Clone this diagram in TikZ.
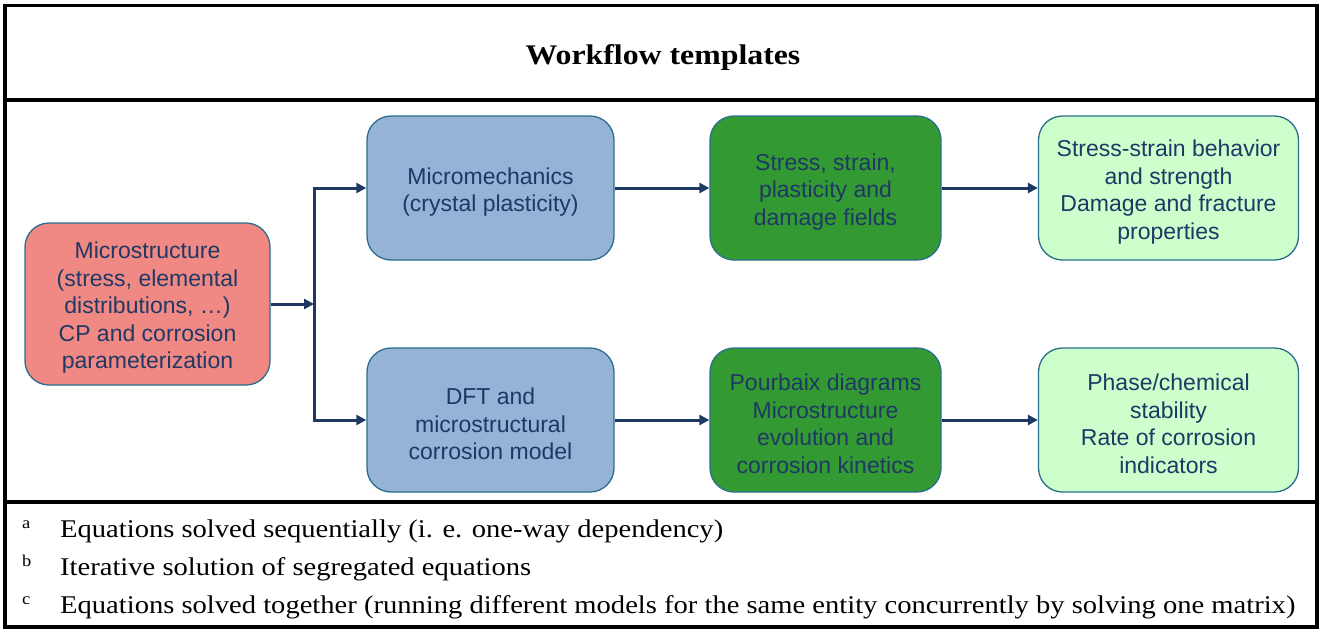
\documentclass[tikz,border=0pt]{standalone}
\usepackage{fontspec}
\setmainfont[FakeStretch=1.12]{Liberation Serif}
\newfontfamily\boxfont{Liberation Sans}
\usetikzlibrary{arrows.meta}

\definecolor{navy}{HTML}{1F3864}
\definecolor{edge}{HTML}{2A6E8C}
\definecolor{salmon}{HTML}{F08984}
\definecolor{steel}{HTML}{95B3D7}
\definecolor{leaf}{HTML}{339933}
\definecolor{mint}{HTML}{CCFFCC}

\tikzset{
  card/.style={draw=edge, line width=1.3pt, rounded corners=24pt, inner sep=0pt},
  cardtext/.style={align=center, text=navy, inner sep=0pt, yshift=-4pt,
    font=\boxfont\fontsize{23}{27.5}\selectfont},
  link/.style={draw=navy, line width=3pt,
    -{Triangle[length=10pt,width=10pt]}},
  frame/.style={line width=3.3pt},
  note/.style={anchor=base west, inner sep=0pt,
    font=\fontsize{25.5}{30}\selectfont},
  supmark/.style={anchor=base west, inner sep=0pt,
    font=\fontsize{16.5}{18}\selectfont},
}

\begin{document}
\begin{tikzpicture}[x=1pt, y=-1pt]
\useasboundingbox (0,0) rectangle (1321,629);

% table frame
\draw[frame] (5,5.7) rectangle (1317,627);
\draw[frame] (5,100) -- (1317,100);
\draw[frame] (5,502) -- (1317,502);

% heading
\node[font=\bfseries\fontsize{28.4}{32}\selectfont] (title) at (663,58) {Workflow templates};

% boxes
\node[card, fill=salmon, minimum width=245pt, minimum height=162pt,
  label={[cardtext]center:{Microstructure\\(stress, elemental\\distributions, \ldots)\\CP and corrosion\\parameterization}}]
  (micro) at (147.5,304) {};
\node[card, fill=steel, minimum width=247pt, minimum height=144pt,
  label={[cardtext]center:{Micromechanics\\(crystal plasticity)}}]
  (mech) at (490.5,188) {};
\node[card, fill=steel, minimum width=247pt, minimum height=144pt,
  label={[cardtext]center:{DFT and\\microstructural\\corrosion model}}]
  (dft) at (490.5,420) {};
\node[card, fill=leaf, minimum width=231pt, minimum height=144pt,
  label={[cardtext]center:{Stress, strain,\\plasticity and\\damage fields}}]
  (fields) at (825.5,188) {};
\node[card, fill=leaf, minimum width=231pt, minimum height=144pt,
  label={[cardtext]center:{Pourbaix diagrams\\Microstructure\\evolution and\\corrosion kinetics}}]
  (pourbaix) at (825.5,420) {};
\node[card, fill=mint, minimum width=260pt, minimum height=144pt,
  label={[cardtext]center:{Stress-strain behavior\\and strength\\Damage and fracture\\properties}}]
  (strength) at (1168.5,188) {};
\node[card, fill=mint, minimum width=260pt, minimum height=144pt,
  label={[cardtext]center:{Phase/chemical\\stability\\Rate of corrosion\\indicators}}]
  (stability) at (1168.5,420) {};

% connectors
\coordinate (fork) at (314,304);
\draw[link] (micro.east) -- (fork);
\draw[link] (fork |- dft.west) -- (fork |- mech.west) -- (mech.west);
\draw[link] (fork |- mech.west) -- (fork |- dft.west) -- (dft.west);
\draw[link] (mech) -- (fields);
\draw[link] (dft) -- (pourbaix);
\draw[link] (fields) -- (strength);
\draw[link] (pourbaix) -- (stability);

% footnotes
\node[supmark] (ma) at (22,528) {a};
\node[note] (na) at (60,537) {Equations solved sequentially (i. e. one-way dependency)};
\node[supmark] (mb) at (22,566) {b};
\node[note] (nb) at (60,575) {Iterative solution of segregated equations};
\node[supmark] (mc) at (22,604) {c};
\node[note] (nc) at (60,613) {Equations solved together (running different models for the same entity concurrently by solving one matrix)};
\end{tikzpicture}
\end{document}
